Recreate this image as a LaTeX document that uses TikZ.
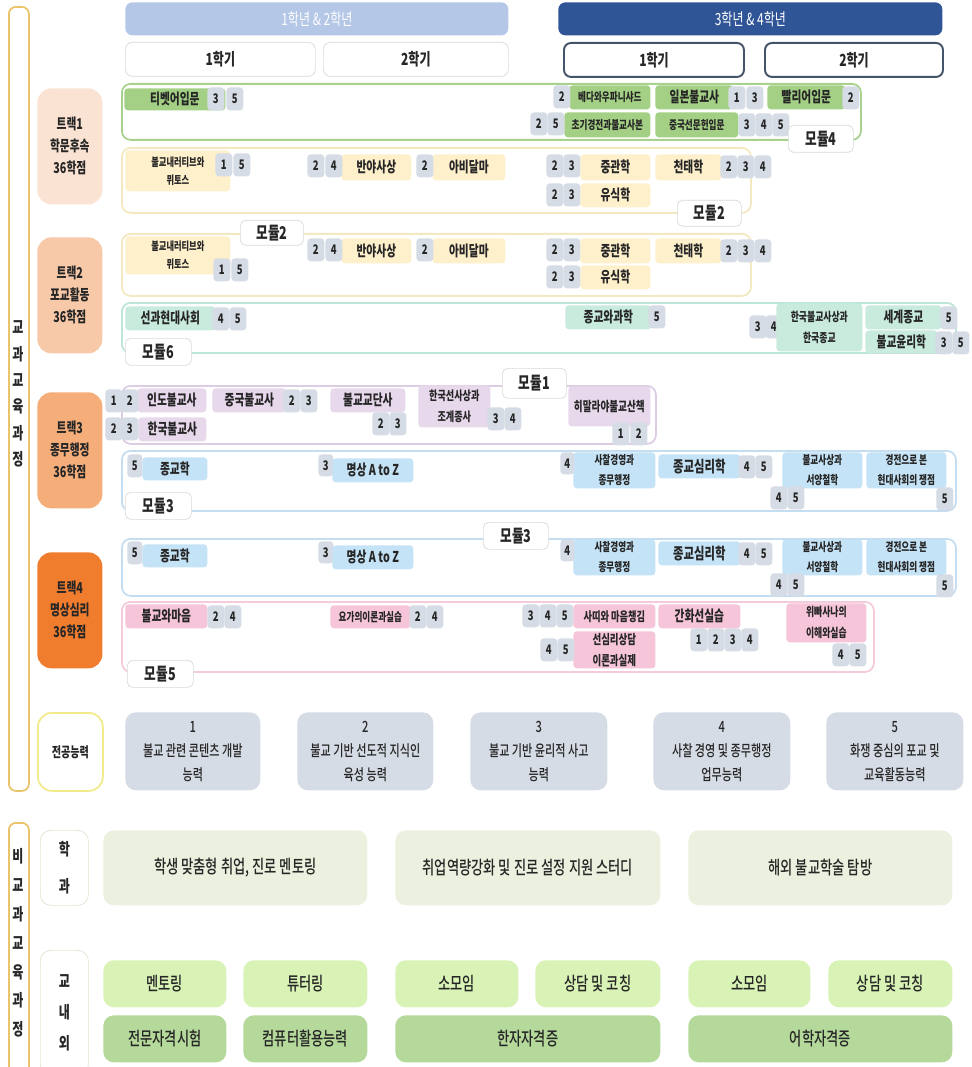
\documentclass[tikz,border=0pt]{standalone}
\usepackage{fontspec}
\setmainfont{Noto Sans CJK KR}[FakeStretch=0.72]
\newfontfamily\medfont{Noto Sans CJK KR Medium}[FakeStretch=0.72]
\usepackage{tikz}

\definecolor{hdrA}{HTML}{B4C7E7}
\definecolor{hdrB}{HTML}{2F5597}
\definecolor{semL}{HTML}{D9D9D9}
\definecolor{semD}{HTML}{44546A}
\definecolor{barc}{HTML}{E9C46A}
\definecolor{trA}{HTML}{FBE3D3}
\definecolor{trB}{HTML}{F8C9A8}
\definecolor{trC}{HTML}{F5AE7A}
\definecolor{trD}{HTML}{F07C2E}
\definecolor{capc}{HTML}{F3EA8C}
\definecolor{numc}{HTML}{D6DCE5}
\definecolor{grn}{HTML}{A3D084}
\definecolor{ylw}{HTML}{FFF0CC}
\definecolor{tea}{HTML}{C8EBDE}
\definecolor{lil}{HTML}{E8D8EC}
\definecolor{blu}{HTML}{C5E3F6}
\definecolor{pnk}{HTML}{F7C5DA}
\definecolor{m4c}{HTML}{A9D18E}
\definecolor{m2c}{HTML}{F3E8C0}
\definecolor{m6c}{HTML}{BDE5D8}
\definecolor{m1c}{HTML}{DCCCE4}
\definecolor{m3c}{HTML}{C4DDF0}
\definecolor{m5c}{HTML}{F4CBDA}
\definecolor{abil}{HTML}{D6DCE5}
\definecolor{deptc}{HTML}{EBF1DE}
\definecolor{actc}{HTML}{D8F3B5}
\definecolor{certc}{HTML}{B4D99A}
\definecolor{sidec}{HTML}{E3E3D3}
\definecolor{txt}{HTML}{262626}

\begin{document}
\begin{tikzpicture}[x=0.02cm, y=-0.02cm,
	every node/.style={inner sep=0pt, anchor=north west, align=center, text=txt},
	sz/.style 2 args={minimum width=#1*0.02cm, minimum height=#2*0.02cm},
	crs/.style={fill=#1, rounded corners=2pt, font=\bfseries\fontsize{8.5}{10}\selectfont},
	crss/.style={crs=#1, font=\bfseries\fontsize{6.8}{11.5}\selectfont},
	num/.style={fill=numc, rounded corners=2pt, sz={17}{23}, font=\bfseries\fontsize{7.5}{8}\selectfont},
	modbox/.style={draw=#1, line width=1pt, rounded corners=5pt, fill=white},
	modlbl/.style={draw=semL, fill=white, rounded corners=3pt, sz={65}{27}, font=\bfseries\fontsize{10}{12}\selectfont},
	sem/.style={draw=#1, fill=white, rounded corners=4pt, font=\bfseries\fontsize{9.5}{11}\selectfont},
	trk/.style={fill=#1, rounded corners=8pt, sz={65}{116}, font=\bfseries\fontsize{8.5}{12.5}\selectfont},
	bar/.style={draw=barc, line width=1pt, rounded corners=4pt},
	abl/.style={fill=abil, rounded corners=6pt, sz={137}{78}, font=\medfont\fontsize{8.8}{13.7}\selectfont},
	side/.style={draw=sidec, fill=white, rounded corners=6pt, font=\bfseries\fontsize{9.5}{12}\selectfont},
	prog/.style={fill=#1, rounded corners=6pt, font=\medfont\fontsize{10.5}{12}\selectfont}]
	\useasboundingbox (0,0) rectangle (972,1067);

	% side bars
	\node (cur) at (8,6) [bar, sz={20}{784}] {};
	\node (curtxt) at (18,394) [anchor=center, font=\bfseries\fontsize{9.5}{15}\selectfont] {교\\과\\교\\육\\과\\정};
	\node (ext) at (8,822) [bar, sz={20}{260}] {};
	\node (exttxt) at (18,943) [anchor=center, font=\bfseries\fontsize{9.5}{16.4}\selectfont] {비\\교\\과\\교\\육\\과\\정};

	% year and semester headers
	\node (y12) at (125,2) [fill=hdrA, rounded corners=4pt, sz={383}{33}, text=white, font=\fontsize{9.5}{10}\selectfont] {1학년 \& 2학년};
	\node (y34) at (558,2) [fill=hdrB, rounded corners=4pt, sz={384}{33}, text=white, font=\fontsize{9.5}{10}\selectfont] {3학년 \& 4학년};
	\node (y12s1) at (125,42) [sem=semL, sz={190}{34}] {1학기};
	\node (y12s2) at (323,42) [sem=semL, sz={185}{34}] {2학기};
	\node (y34s1) at (563,42) [sem=semD, line width=1.1pt, sz={180}{34}] {1학기};
	\node (y34s2) at (764,42) [sem=semD, line width=1.1pt, sz={178}{34}] {2학기};

	% tracks
	\node (tr1) at (37,88) [trk=trA] {트랙1\\학문후속\\36학점};
	\node (tr2) at (37,237) [trk=trB] {트랙2\\포교활동\\36학점};
	\node (tr3) at (37,392) [trk=trC] {트랙3\\종무행정\\36학점};
	\node (tr4) at (37,552) [trk=trD] {트랙4\\명상심리\\36학점};
	\node (cap) at (37,712) [draw=capc, line width=1pt, fill=white, rounded corners=8pt, sz={65}{78}, font=\bfseries\fontsize{8}{10}\selectfont] {전공능력};

	% module frames
	\node (m4) at (121,83) [modbox=m4c, sz={739}{56}] {};
	\node (m2a) at (121,147) [modbox=m2c, sz={629}{65}] {};
	\node (m2b) at (121,233) [modbox=m2c, sz={629}{62}] {};
	\node (m6) at (121,302) [modbox=m6c, sz={834}{50}] {};
	\node (m1) at (121,385) [modbox=m1c, sz={534}{58}] {};
	\node (m3a) at (121,450) [modbox=m3c, sz={834}{60}] {};
	\node (m3b) at (121,538) [modbox=m3c, sz={834}{57}] {};
	\node (m5) at (121,601) [modbox=m5c, sz={752}{70}] {};

	% module 4
	\node (tibet) at (124,88) [crs=grn, sz={101}{22}] {티벳어입문};
	\node (tibet-3) at (207,87) [num] {3};
	\node (tibet-5) at (226,87) [num] {5};
	\node (veda) at (569,85) [crss=grn, sz={81}{24}] {베다와우파니샤드};
	\node (veda-2) at (553,85) [num] {2};
	\node (ilbon) at (655,85) [crs=grn, sz={78}{24}] {일본불교사};
	\node (ilbon-1) at (728,86) [num] {1};
	\node (ilbon-3) at (746,86) [num] {3};
	\node (pali) at (767,85) [crs=grn, sz={78}{24}] {빨리어입문};
	\node (pali-2) at (842,86) [num] {2};
	\node (chogi) at (564,112) [crss=grn, sz={86}{25}] {초기경전과불교사본};
	\node (chogi-2) at (530,112) [num] {2};
	\node (chogi-5) at (547,112) [num] {5};
	\node (sunmun) at (655,112) [crss=grn, sz={83}{25}] {중국선문헌입문};
	\node (sunmun-3) at (738,113) [num] {3};
	\node (sunmun-4) at (755,113) [num] {4};
	\node (sunmun-5) at (772,113) [num] {5};

	% module 2, track 1
	\node (nar) at (125,150) [crss=ylw, sz={105}{41}, font=\bfseries\fontsize{6.5}{10.2}\selectfont] {불교내러티브와\\뮈토스};
	\node (nar-1) at (215,153) [num] {1};
	\node (nar-5) at (233,153) [num] {5};
	\node (banya) at (341,154) [crs=ylw, sz={70}{26}] {반야사상};
	\node (banya-2) at (307,154) [num] {2};
	\node (banya-4) at (325,154) [num] {4};
	\node (abi) at (432,154) [crs=ylw, sz={73}{26}] {아비달마};
	\node (abi-2) at (416,154) [num] {2};
	\node (jung) at (580,154) [crs=ylw, sz={70}{26}] {중관학};
	\node (jung-2) at (546,154) [num] {2};
	\node (jung-3) at (563,154) [num] {3};
	\node (chon) at (655,154) [crs=ylw, sz={66}{26}] {천태학};
	\node (chon-2) at (720,155) [num] {2};
	\node (chon-3) at (737,155) [num] {3};
	\node (chon-4) at (754,155) [num] {4};
	\node (yusik) at (580,183) [crs=ylw, sz={70}{24}] {유식학};
	\node (yusik-2) at (546,183) [num] {2};
	\node (yusik-3) at (563,183) [num] {3};

	% module 2, track 2
	\node (nar2) at (125,236) [crss=ylw, sz={105}{38}, font=\bfseries\fontsize{6.5}{10.2}\selectfont] {불교내러티브와\\뮈토스};
	\node (nar2-1) at (213,258) [num] {1};
	\node (nar2-5) at (231,258) [num] {5};
	\node (banya2) at (341,238) [crs=ylw, sz={70}{25}] {반야사상};
	\node (banya2-2) at (307,238) [num] {2};
	\node (banya2-4) at (325,238) [num] {4};
	\node (abi2) at (432,238) [crs=ylw, sz={73}{25}] {아비달마};
	\node (abi2-2) at (416,238) [num] {2};
	\node (jung2) at (580,238) [crs=ylw, sz={70}{25}] {중관학};
	\node (jung2-2) at (546,238) [num] {2};
	\node (jung2-3) at (563,238) [num] {3};
	\node (chon2) at (655,238) [crs=ylw, sz={66}{25}] {천태학};
	\node (chon2-2) at (720,239) [num] {2};
	\node (chon2-3) at (737,239) [num] {3};
	\node (chon2-4) at (754,239) [num] {4};
	\node (yusik2) at (580,265) [crs=ylw, sz={70}{24}] {유식학};
	\node (yusik2-2) at (546,265) [num] {2};
	\node (yusik2-3) at (563,265) [num] {3};

	% module 6
	\node (sungwa) at (125,306) [crs=tea, sz={90}{24}] {선과현대사회};
	\node (sungwa-4) at (212,307) [num] {4};
	\node (sungwa-5) at (229,307) [num] {5};
	\node (jongkwa) at (565,305) [crs=tea, sz={86}{24}] {종교와과학};
	\node (jongkwa-5) at (648,305) [num] {5};
	\node (hanguk-3) at (749,315) [num] {3};
	\node (hanguk-4) at (765,315) [num] {4};
	\node (hanguk) at (776,303) [crss=tea, sz={86}{48}, font=\bfseries\fontsize{7}{12}\selectfont] {한국불교사상과\\한국종교};
	\node (segye) at (865,305) [crs=tea, sz={76}{24}] {세계종교};
	\node (segye-5) at (940,306) [num] {5};
	\node (yunri) at (865,330) [crs=tea, sz={72}{23}] {불교윤리학};
	\node (yunri-3) at (935,331) [num] {3};
	\node (yunri-5) at (952,331) [num] {5};

	% module 1
	\node (indo) at (137,388) [crs=lil, sz={69}{24}] {인도불교사};
	\node (indo-1) at (105,389) [num] {1};
	\node (indo-2) at (121,389) [num] {2};
	\node (hanbul) at (138,417) [crs=lil, sz={68}{24}] {한국불교사};
	\node (hanbul-2) at (105,417) [num] {2};
	\node (hanbul-3) at (121,417) [num] {3};
	\node (jungbul) at (212,388) [crs=lil, sz={74}{24}] {중국불교사};
	\node (jungbul-2) at (283,389) [num] {2};
	\node (jungbul-3) at (300,389) [num] {3};
	\node (gyodan) at (330,388) [crs=lil, sz={75}{24}] {불교교단사};
	\node (gyodan-2) at (372,412) [num] {2};
	\node (gyodan-3) at (389,412) [num] {3};
	\node (hanson) at (418,385) [crss=lil, sz={72}{42}, font=\bfseries\fontsize{7.2}{12}\selectfont] {한국선사상과\\조계종사};
	\node (hanson-3) at (487,407) [num] {3};
	\node (hanson-4) at (504,407) [num] {4};
	\node (hima) at (568,386) [crss=lil, sz={82}{40}, font=\bfseries\fontsize{7.6}{10}\selectfont] {히말라야불교산책};
	\node (hima-1) at (612,422) [num] {1};
	\node (hima-2) at (630,422) [num] {2};

	% module 3, track 3
	\node (jonggyo-5) at (127,454) [num, sz={15}{23}] {5};
	\node (jonggyo) at (142,457) [crs=blu, sz={65}{23}] {종교학};
	\node (myung-3) at (318,454) [num, sz={15}{22}] {3};
	\node (myung) at (332,458) [crs=blu, sz={81}{24}] {명상 A to Z};
	\node (sachal) at (573,452) [crss=blu, sz={82}{36}] {사찰경영과\\종무행정};
	\node (sachal-4) at (560,452) [num, sz={14}{22}] {4};
	\node (simri) at (658,454) [crs=blu, sz={82}{24}, font=\bfseries\fontsize{9}{10}\selectfont] {종교심리학};
	\node (simri-4) at (738,455) [num] {4};
	\node (simri-5) at (755,455) [num] {5};
	\node (seoyang) at (782,452) [crss=blu, sz={80}{36}] {불교사상과\\서양철학};
	\node (seoyang-4) at (770,486) [num] {4};
	\node (seoyang-5) at (787,486) [num] {5};
	\node (gyung) at (866,452) [crss=blu, sz={80}{36}] {경전으로 본\\현대사회의 쟁점};
	\node (gyung-5) at (936,487) [num] {5};

	% module 3, track 4
	\node (jonggyo2-5) at (127,541) [num, sz={15}{23}] {5};
	\node (jonggyo2) at (142,544) [crs=blu, sz={65}{23}] {종교학};
	\node (myung2-3) at (318,541) [num, sz={15}{22}] {3};
	\node (myung2) at (332,545) [crs=blu, sz={81}{24}] {명상 A to Z};
	\node (sachal2) at (573,539) [crss=blu, sz={82}{36}] {사찰경영과\\종무행정};
	\node (sachal2-4) at (560,539) [num, sz={14}{22}] {4};
	\node (simri2) at (658,541) [crs=blu, sz={82}{24}, font=\bfseries\fontsize{9}{10}\selectfont] {종교심리학};
	\node (simri2-4) at (738,542) [num] {4};
	\node (simri2-5) at (755,542) [num] {5};
	\node (seoyang2) at (782,539) [crss=blu, sz={80}{36}] {불교사상과\\서양철학};
	\node (seoyang2-4) at (770,573) [num] {4};
	\node (seoyang2-5) at (787,573) [num] {5};
	\node (gyung2) at (866,539) [crss=blu, sz={80}{36}] {경전으로 본\\현대사회의 쟁점};
	\node (gyung2-5) at (936,574) [num] {5};

	% module 5
	\node (maum) at (125,604) [crs=pnk, sz={82}{24}] {불교와마음};
	\node (maum-2) at (207,605) [num] {2};
	\node (maum-4) at (224,605) [num] {4};
	\node (yoga) at (330,605) [crss=pnk, sz={80}{23}] {요가의이론과실습};
	\node (yoga-2) at (409,605) [num] {2};
	\node (yoga-4) at (426,605) [num] {4};
	\node (sati) at (573,604) [crs=pnk, sz={82}{24}, font=\bfseries\fontsize{7.3}{9}\selectfont] {사띠와 마음챙김};
	\node (sati-3) at (522,604) [num] {3};
	\node (sati-4) at (539,604) [num] {4};
	\node (sati-5) at (556,604) [num] {5};
	\node (ganhwa) at (658,604) [crs=pnk, sz={82}{24}] {간화선실습};
	\node (ganhwa-1) at (690,628) [num] {1};
	\node (ganhwa-2) at (707,628) [num] {2};
	\node (ganhwa-3) at (724,628) [num] {3};
	\node (ganhwa-4) at (741,628) [num] {4};
	\node (sunsim) at (573,631) [crss=pnk, sz={82}{37}, font=\bfseries\fontsize{7.5}{12}\selectfont] {선심리상담\\이론과실제};
	\node (sunsim-4) at (540,638) [num] {4};
	\node (sunsim-5) at (557,638) [num] {5};
	\node (wipas) at (786,603) [crss=pnk, sz={80}{39}, font=\bfseries\fontsize{7}{12}\selectfont] {위빠사나의\\이해와실습};
	\node (wipas-4) at (832,643) [num] {4};
	\node (wipas-5) at (849,643) [num] {5};

	% module labels
	\node (m4l) at (788,125) [modlbl] {모듈4};
	\node (m2al) at (677,200) [modlbl, sz={64}{26}] {모듈2};
	\node (m2bl) at (240,220) [modlbl, sz={63}{25}] {모듈2};
	\node (m6l) at (125,338) [modlbl, sz={66}{27}] {모듈6};
	\node (m1l) at (502,368) [modlbl, sz={64}{30}] {모듈1};
	\node (m3al) at (125,492) [modlbl, sz={66}{27}] {모듈3};
	\node (m3bl) at (483,522) [modlbl] {모듈3};
	\node (m5l) at (127,660) [modlbl, sz={66}{27}] {모듈5};

	% major abilities
	\node (ab1) at (125,712) [abl, sz={135}{78}] {1\\불교 관련 콘텐츠 개발\\능력};
	\node (ab2) at (297,712) [abl, sz={136}{78}] {2\\불교 기반 선도적 지식인\\육성 능력};
	\node (ab3) at (470,712) [abl] {3\\불교 기반 윤리적 사고\\능력};
	\node (ab4) at (653,712) [abl] {4\\사찰 경영 및 종무행정\\업무능력};
	\node (ab5) at (826,712) [abl] {5\\화쟁 중심의 포교 및\\교육활동능력};

	% extracurricular
	\node (dept) at (40,830) [side, sz={48}{75}, font=\bfseries\fontsize{9.5}{21}\selectfont] {학\\과};
	\node (campus) at (40,950) [side, sz={48}{125}, font=\bfseries\fontsize{9.5}{17.6}\selectfont] {교\\내\\외};
	\node (d1) at (103,830) [prog=deptc, sz={264}{75}] {학생 맞춤형 취업, 진로 멘토링};
	\node (d2) at (395,830) [prog=deptc, sz={265}{75}] {취업역량강화 및 진로 설정 지원 스터디};
	\node (d3) at (688,830) [prog=deptc, sz={264}{75}] {해외 불교학술 탐방};
	\node (e1) at (103,960) [prog=actc, sz={123}{47}] {멘토링};
	\node (e2) at (243,960) [prog=actc, sz={124}{47}] {튜터링};
	\node (e3) at (395,960) [prog=actc, sz={123}{47}] {소모임};
	\node (e4) at (535,960) [prog=actc, sz={125}{47}] {상담 및 코칭};
	\node (e5) at (688,960) [prog=actc, sz={122}{47}] {소모임};
	\node (e6) at (828,960) [prog=actc, sz={124}{47}] {상담 및 코칭};
	\node (f1) at (103,1015) [prog=certc, sz={123}{47}] {전문자격시험};
	\node (f2) at (243,1015) [prog=certc, sz={124}{47}] {컴퓨터활용능력};
	\node (f3) at (395,1015) [prog=certc, sz={265}{47}] {한자자격증};
	\node (f4) at (688,1015) [prog=certc, sz={264}{47}] {어학자격증};
\end{tikzpicture}
\end{document}
